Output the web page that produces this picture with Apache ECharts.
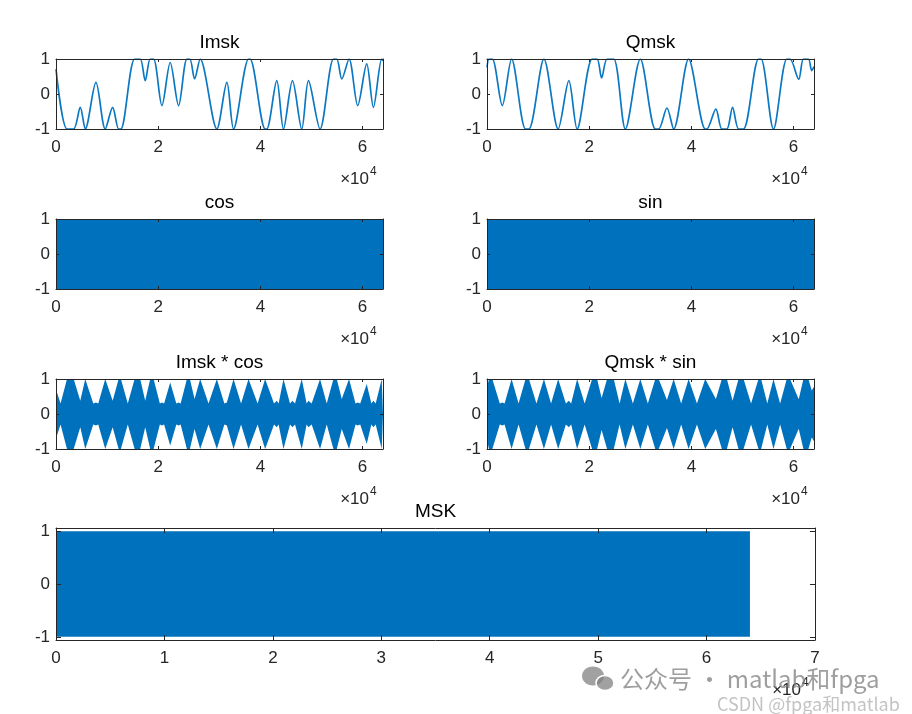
<!DOCTYPE html>
<html>
<head>
<meta charset="utf-8">
<script src="https://cdn.jsdelivr.net/npm/echarts@6/dist/echarts.min.js"></script>
<style>
  html, body { margin: 0; padding: 0; background: #fff; }
  #main { width: 912px; height: 714px; }
</style>
</head>
<body>
<div id="main"></div>
<script>
// x values are in units of 1e4 samples (axis shows "x10^4")

// Imsk baseband (turning points)
var imskX = [0, 0.215, 0.346, 0.475, 0.573, 0.782, 0.964, 1.109, 1.226, 1.27, 1.539, 1.648, 1.746, 1.844, 1.91,
  2.073, 2.235, 2.399, 2.562, 2.62, 2.712, 2.822, 3.148, 3.344, 3.475, 3.768, 3.799, 4.093, 4.126, 4.321,
  4.452, 4.628, 4.81, 4.941, 5.168, 5.43, 5.495, 5.593, 5.735, 5.905, 6.081, 6.212, 6.375, 6.4];
var imskY = [0.71, -1, -1, -0.38, -1, 0.33, -1, -0.38, -1, -1, 1, 1, 0.38, 1, 1,
  -0.33, 0.9, -0.33, 1, 1, 0.43, 1, -1, 0.33, -1, 1, 1, -1, -1, 0.38,
  -1, 0.38, -1, 0.38, -1, 1, 1, 0.43, 1, -0.33, 0.86, -0.38, 1, 0.95];

// Qmsk baseband
var qmskX = [0, 0.039, 0.104, 0.299, 0.481, 0.754, 0.821, 1.114, 1.393, 1.602, 1.764, 2.057, 2.155, 2.243,
  2.35, 2.481, 2.708, 3.001, 3.294, 3.36, 3.522, 3.653, 3.946, 4.271, 4.303, 4.48, 4.597, 4.695, 4.806,
  4.923, 5.021, 5.314, 5.365, 5.607, 5.867, 5.931, 6.101, 6.193, 6.291, 6.355, 6.4];
var qmskY = [0.76, 1, 1, -0.33, 1, -1, -1, 1, -1, 0.38, -1, 1, 1, 0.46,
  1, 1, -1, 1, -1, -1, -0.4, -1, 1, -1, -1, -0.43, -1, -1, -0.38,
  -1, -1, 1, 1, -1, 1, 1, 0.42, 1, 1, 0.67, 0.78];

// carriers: the plot is a solid block between the envelopes
var carrierX = [0, 6.4];
var cosEnv = [1, 1];
var sinEnv = [1, 1];

// Imsk*cos envelope (top edge of the filled area)
var imskCosX = [0, 0.089, 0.215, 0.346, 0.475, 0.573, 0.73, 0.782, 0.827, 0.964, 1.109, 1.226, 1.27, 1.405,
  1.539, 1.648, 1.746, 1.844, 1.91, 2.033, 2.073, 2.116, 2.235, 2.355, 2.399, 2.439, 2.562, 2.62, 2.712,
  2.822, 2.985, 3.148, 3.295, 3.344, 3.377, 3.475, 3.622, 3.768, 3.799, 3.946, 4.093, 4.126, 4.267, 4.321,
  4.357, 4.452, 4.58, 4.628, 4.678, 4.81, 4.905, 4.941, 5.004, 5.168, 5.299, 5.43, 5.495, 5.593, 5.735,
  5.863, 5.905, 5.954, 6.081, 6.172, 6.212, 6.257, 6.375, 6.4];
var imskCosEnv = [0.7, 0.3, 1, 1, 0.38, 1, 0.3, 0.33, 0.3, 1, 0.38, 1, 1, 0.3,
  1, 1, 0.38, 1, 1, 0.3, 0.33, 0.3, 0.9, 0.3, 0.33, 0.3, 1, 1, 0.43,
  1, 0.3, 1, 0.3, 0.33, 0.3, 1, 0.3, 1, 1, 0.3, 1, 1, 0.3, 0.38,
  0.3, 1, 0.3, 0.38, 0.3, 1, 0.3, 0.38, 0.3, 1, 0.3, 1, 1, 0.43, 1,
  0.3, 0.33, 0.3, 0.86, 0.3, 0.38, 0.3, 1, 0.95];

// Qmsk*sin envelope
var qmskSinX = [0, 0.039, 0.104, 0.251, 0.299, 0.344, 0.481, 0.618, 0.754, 0.821, 0.968, 1.114, 1.254, 1.393,
  1.544, 1.602, 1.647, 1.764, 1.911, 2.057, 2.155, 2.243, 2.35, 2.481, 2.595, 2.708, 2.855, 3.001, 3.148,
  3.294, 3.36, 3.522, 3.653, 3.8, 3.946, 4.109, 4.271, 4.303, 4.48, 4.597, 4.695, 4.806, 4.923, 5.021,
  5.168, 5.314, 5.365, 5.486, 5.607, 5.737, 5.867, 5.931, 6.101, 6.193, 6.291, 6.355, 6.4];
var qmskSinEnv = [0.76, 1, 1, 0.3, 0.33, 0.3, 1, 0.3, 1, 1, 0.3, 1, 0.3, 1,
  0.3, 0.38, 0.3, 1, 0.3, 1, 1, 0.46, 1, 1, 0.3, 1, 0.3, 1, 0.3,
  1, 1, 0.4, 1, 0.3, 1, 0.3, 1, 1, 0.43, 1, 1, 0.38, 1, 1,
  0.3, 1, 1, 0.3, 1, 0.3, 1, 1, 0.42, 1, 1, 0.67, 0.78];

// MSK output (solid block, stops at 6.4e4)
var mskX = [0, 6.4];
var mskEnv = [1, 1];

var shortTicks = [0, 2, 4, 6];
var mskTicks = [0, 1, 2, 3, 4, 5, 6, 7];
var yTicks = [-1, 0, 1];
var titles = ['Imsk', 'Qmsk', 'cos', 'sin', 'Imsk * cos', 'Qmsk * sin', 'MSK'];

var BLUE = '#0072BD';
var AX = '#262626';
var FONT = '"Liberation Sans", Arial, sans-serif';

var boxes = [
  { left: 56, top: 59, width: 327, height: 70, xmax: 6.4, ticks: shortTicks, ymax: 1, tl: 3 },
  { left: 487, top: 59, width: 327, height: 70, xmax: 6.4, ticks: shortTicks, ymax: 1, tl: 3 },
  { left: 56, top: 219, width: 327, height: 70, xmax: 6.4, ticks: shortTicks, ymax: 1, tl: 3 },
  { left: 487, top: 219, width: 327, height: 70, xmax: 6.4, ticks: shortTicks, ymax: 1, tl: 3 },
  { left: 56, top: 379, width: 327, height: 70, xmax: 6.4, ticks: shortTicks, ymax: 1, tl: 3 },
  { left: 487, top: 379, width: 327, height: 70, xmax: 6.4, ticks: shortTicks, ymax: 1, tl: 3 },
  { left: 56, top: 528, width: 759, height: 112, xmax: 7, ticks: mskTicks, ymax: 1.06, tl: 5 }
];

function zip(xs, ys, sign) {
  var out = [];
  for (var i = 0; i < xs.length; i++) out.push([xs[i], (sign || 1) * ys[i]]);
  return out;
}

function xAxis(gi, b, pos, labels) {
  return {
    type: 'value', gridIndex: gi, position: pos, min: 0, max: b.xmax, z: 5,
    axisLine: { show: true, onZero: false, lineStyle: { color: AX, width: 1 } },
    axisTick: { show: true, inside: true, length: b.tl, customValues: b.ticks, lineStyle: { color: AX } },
    axisLabel: { show: labels, customValues: b.ticks, margin: 10, color: AX, fontSize: 17, fontFamily: FONT },
    splitLine: { show: false }
  };
}
function yAxis(gi, b, pos, labels) {
  return {
    type: 'value', gridIndex: gi, position: pos, min: -b.ymax, max: b.ymax, z: 5,
    axisLine: { show: true, onZero: false, lineStyle: { color: AX, width: 1 } },
    axisTick: { show: true, inside: true, length: b.tl, customValues: yTicks, lineStyle: { color: AX } },
    axisLabel: { show: labels, customValues: yTicks, margin: 6, color: AX, fontSize: 17, fontFamily: FONT },
    splitLine: { show: false }
  };
}

function lineSeries(i, xs, ys) {
  return {
    type: 'line', xAxisIndex: 2 * i, yAxisIndex: 2 * i, data: zip(xs, ys),
    symbol: 'none', smooth: 0.3, lineStyle: { color: '#0a78c2', width: 1.7 }, silent: true
  };
}
function bandSeries(i, xs, env) {
  var s = [];
  [1, -1].forEach(function (sg) {
    s.push({
      type: 'line', xAxisIndex: 2 * i, yAxisIndex: 2 * i, data: zip(xs, env, sg),
      symbol: 'none', lineStyle: { width: 0 }, areaStyle: { color: BLUE, opacity: 1 }, silent: true
    });
  });
  return s;
}

var grids = [], xAxes = [], yAxes = [], graphics = [];
boxes.forEach(function (b, i) {
  grids.push({ left: b.left, top: b.top, width: b.width, height: b.height, containLabel: false });
  xAxes.push(xAxis(i, b, 'bottom', true), xAxis(i, b, 'top', false));
  yAxes.push(yAxis(i, b, 'left', true), yAxis(i, b, 'right', false));
  graphics.push({
    type: 'text', x: b.left + b.width / 2, y: b.top - 16,
    style: { text: titles[i], fill: '#000', font: '19px ' + FONT, align: 'center', verticalAlign: 'middle',
      textAlign: 'center', textVerticalAlign: 'middle' }
  });
  var rx = b.left + b.width - 14, by = b.top + b.height;
  graphics.push({
    type: 'text', x: rx, y: by + 50,
    style: { text: '\u00d710', fill: AX, font: '17px ' + FONT, align: 'right', verticalAlign: 'middle',
      textAlign: 'right', textVerticalAlign: 'middle' }
  });
  graphics.push({
    type: 'text', x: rx + 1, y: by + 43,
    style: { text: '4', fill: AX, font: '12px ' + FONT, align: 'left', verticalAlign: 'middle',
      textAlign: 'left', textVerticalAlign: 'middle' }
  });
});

// watermark
graphics.push(
  { type: 'ellipse', shape: { cx: 593, cy: 676, rx: 11, ry: 9.5 }, style: { fill: 'rgba(130,130,130,0.75)' } },
  { type: 'ellipse', shape: { cx: 605, cy: 683, rx: 9, ry: 7.5 }, style: { fill: 'rgba(130,130,130,0.75)', stroke: '#fff', lineWidth: 1.5 } },
  { type: 'text', x: 620, y: 679,
    style: { text: '公众号 · matlab和fpga', fill: 'rgba(125,125,125,0.75)', font: '24px "Noto Sans CJK SC", sans-serif',
      align: 'left', verticalAlign: 'middle', textAlign: 'left', textVerticalAlign: 'middle' } },
  { type: 'text', x: 717, y: 704,
    style: { text: 'CSDN @fpga和matlab', fill: 'rgba(170,170,170,0.7)', font: '18px "Noto Sans CJK SC", sans-serif',
      align: 'left', verticalAlign: 'middle', textAlign: 'left', textVerticalAlign: 'middle' } }
);

var series = [
  lineSeries(0, imskX, imskY),
  lineSeries(1, qmskX, qmskY)
].concat(
  bandSeries(2, carrierX, cosEnv),
  bandSeries(3, carrierX, sinEnv),
  bandSeries(4, imskCosX, imskCosEnv),
  bandSeries(5, qmskSinX, qmskSinEnv),
  bandSeries(6, mskX, mskEnv)
);

var myChart = echarts.init(document.getElementById('main'));
var option = {
  backgroundColor: '#fff',
  animation: false,
  grid: grids,
  xAxis: xAxes,
  yAxis: yAxes,
  series: series,
  graphic: graphics
};
myChart.setOption(option);
</script>
</body>
</html>
